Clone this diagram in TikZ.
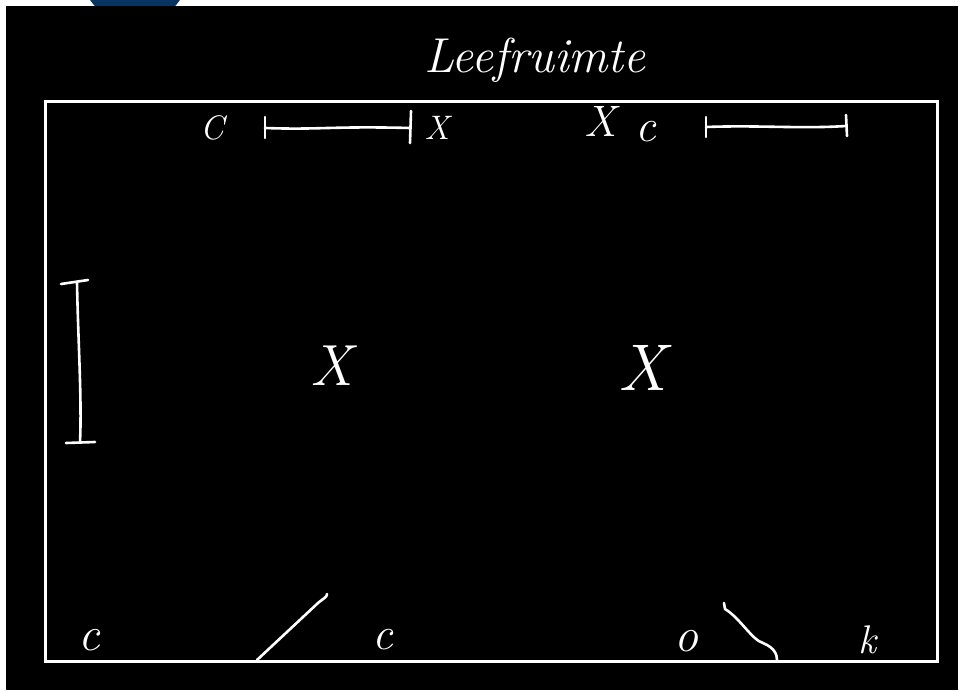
\documentclass[tikz,border=0pt]{standalone}
\usetikzlibrary{arrows.meta}
\definecolor{logoblue}{RGB}{8,52,98}
\tikzset{
  chalk/.style={draw=white, line width=2.6pt, line cap=round, line join=round},
  frame/.style={draw=white, line width=3pt},
  letter/.style={text=white, inner sep=0pt, font=\itshape\fontsize{#1}{#1}\selectfont},
  letter/.default=30
}
\begin{document}
\begin{tikzpicture}[x=1pt,y=-1pt]
  \useasboundingbox (0,0) rectangle (960,690);
  \clip (0,0) rectangle (960,690);
  % page and background
  \fill[white] (0,0) rectangle (960,690);
  \fill[logoblue] (135,-30) circle (54);
  \fill[black] (6,6) rectangle (958,690);

  % room outline
  \node[frame, minimum width=892pt, minimum height=560pt, inner sep=0pt] (room) at (491,381.5) {};

  % title
  \node[letter=49, anchor=base] (title) at (535,73) {Leefruimte};

  % top-left group
  \node[letter=34] (cTL) at (212,128) {C};
  \coordinate (barLa) at (265,128);
  \coordinate (barLb) at (410,128);
  \draw[chalk] (barLa) .. controls (320,130) and (330,126) .. (barLb);
  \draw[chalk] (265,117) -- (265,138);
  \draw[chalk] (411,111) -- (410,143);
  \node[letter=34] (xTL) at (437,128) {X};

  % top-right group
  \node[letter=44] (xTR) at (600,121) {X};
  \node[letter=46] (cTR) at (646,132) {c};
  \coordinate (barRa) at (706,127);
  \coordinate (barRb) at (846,126);
  \draw[chalk] (barRa) .. controls (760,125) and (800,129) .. (barRb);
  \draw[chalk] (706,117) -- (706,137);
  \draw[chalk] (846,115) -- (847,136);

  % left vertical bar
  \coordinate (barVa) at (77,282);
  \coordinate (barVb) at (80,442);
  \draw[chalk] (barVa) .. controls (78,340) and (82,400) .. (barVb);
  \draw[chalk] (61,284) -- (88,280);
  \draw[chalk] (66,443) -- (95,442);

  % middle crosses
  \node[letter=58] (xML) at (332,366) {X};
  \node[letter=66] (xMR) at (642,368) {X};

  % bottom row
  \node[letter=48] (cBL) at (89,640) {c};
  \coordinate (diagA) at (257,660);
  \coordinate (diagB) at (327,594);
  \draw[chalk] (diagA) -- (318,603) .. controls (324,598) and (327,597) .. (diagB);
  \node[letter=46] (cBM) at (383,640) {c};
  \node[letter=48] (oB) at (686,641) {o};
  \coordinate (curveA) at (724,603);
  \coordinate (curveB) at (777,660);
  \draw[chalk] (curveA) -- (725,609) .. controls (740,618) and (752,640) .. (763,643)
        .. controls (775,648) and (777,655) .. (curveB);
  \node[letter=40] (kB) at (867,640) {k};
\end{tikzpicture}
\end{document}
